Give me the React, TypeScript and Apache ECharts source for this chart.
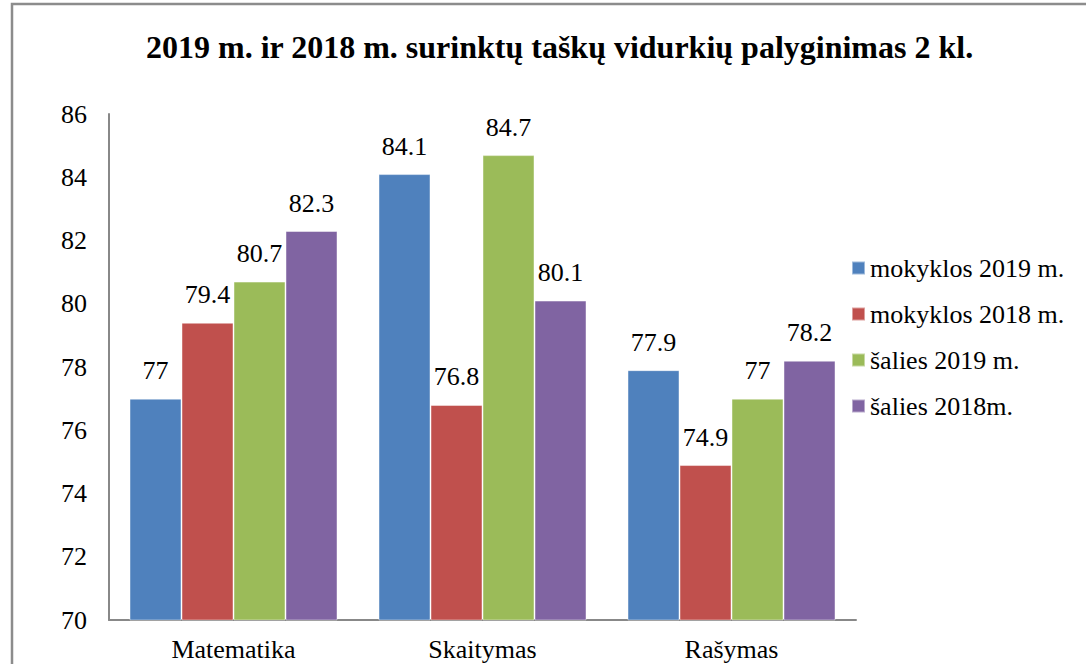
import React, { useEffect, useRef } from "react";
import * as echarts from "echarts";

const categories = ["Matematika", "Skaitymas", "Rašymas"];
const seriesNames = ["mokyklos 2019 m.", "mokyklos 2018 m.", "šalies 2019 m.", "šalies 2018m."];
const mokyklos2019 = [77, 84.1, 77.9];
const mokyklos2018 = [79.4, 76.8, 74.9];
const salies2019 = [80.7, 84.7, 77];
const salies2018 = [82.3, 80.1, 78.2];
const colors = ["#4F81BD", "#C0504D", "#9BBB59", "#8064A2"];
const titleText = "2019 m. ir 2018 m. surinktų taškų vidurkių palyginimas 2 kl.";

const FONT = "Liberation Serif";

export default function App() {
  const ref = useRef<HTMLDivElement>(null);
  useEffect(() => {
    if (!ref.current) return;
    const chart = echarts.init(ref.current, undefined, { renderer: "svg" });
    const values = [mokyklos2019, mokyklos2018, salies2019, salies2018];
    chart.setOption({
      animation: false,
      backgroundColor: "#ffffff",
      textStyle: { fontFamily: FONT },
      title: {
        text: titleText,
        left: 141,
        top: 26,
        textStyle: { fontFamily: FONT, fontWeight: "bold", fontSize: 32, color: "#000" },
      },
      graphic: [
        {
          type: "rect",
          shape: { x: 12, y: 4, width: 1200, height: 800 },
          style: { fill: "none", stroke: "#8c8c8c", lineWidth: 2.5 },
          silent: true,
        },
      ],
      legend: {
        orient: "vertical",
        left: 846,
        top: 250,
        itemWidth: 13,
        itemHeight: 13,
        itemGap: 20,
        icon: "rect",
        data: seriesNames,
        textStyle: { fontFamily: FONT, fontSize: 26, color: "#000", lineHeight: 26 },
      },
      grid: { left: 109, right: 230, top: 114, bottom: 44 },
      xAxis: {
        type: "category",
        data: categories,
        axisLine: { lineStyle: { color: "#888", width: 2 } },
        axisTick: { show: false },
        axisLabel: { fontFamily: FONT, fontSize: 26, color: "#000", margin: 16 },
      },
      yAxis: {
        type: "value",
        min: 70,
        max: 86,
        interval: 2,
        axisLine: { show: true, lineStyle: { color: "#888", width: 2 } },
        axisTick: { show: false },
        splitLine: { show: false },
        axisLabel: { fontFamily: FONT, fontSize: 26, color: "#000", margin: 22 },
      },
      series: seriesNames.map((name, i) => ({
        name,
        type: "bar",
        data: values[i],
        barWidth: 52,
        barGap: "0%",
        itemStyle: { color: colors[i], borderColor: "rgba(255,255,255,0.45)", borderWidth: 1 },
        label: {
          show: true,
          position: "top",
          distance: 15,
          fontFamily: FONT,
          fontSize: 26,
          color: "#000",
        },
      })),
    });
    return () => chart.dispose();
  }, []);
  return (
    <div
      ref={ref}
      style={{ position: "fixed", left: 0, top: 0, width: 1086, height: 664, background: "#fff" }}
    />
  );
}
